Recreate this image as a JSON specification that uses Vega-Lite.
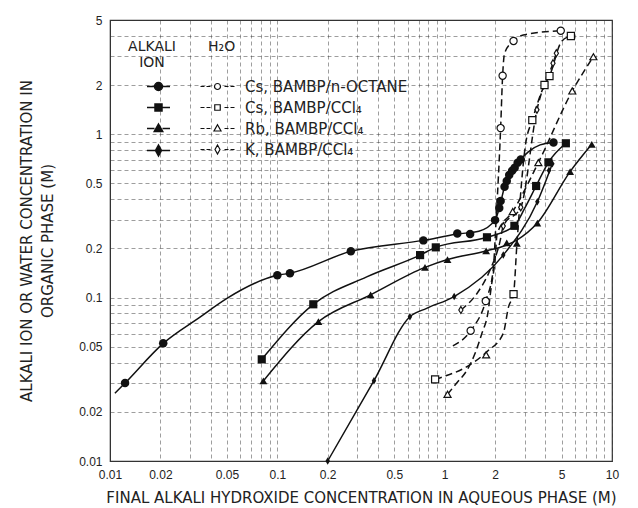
{
  "$schema": "https://vega.github.io/schema/vega-lite/v6.json",
  "width": 502,
  "height": 441,
  "autosize": {"type": "none"},
  "padding": {"left": 110, "top": 20, "right": 26, "bottom": 47},
  "background": "white",
  "config": {
    "view": {"stroke": "#333", "strokeWidth": 1.2},
    "font": "DejaVu Sans",
    "axis": {
      "labelFont": "Liberation Sans", "labelFontSize": 12, "labelColor": "#222",
      "titleFont": "DejaVu Sans", "titleFontSize": 15, "titleFontWeight": "normal", "titleColor": "#222",
      "tickSize": 0, "domainColor": "#333", "gridColor": "#333", "gridDash": [4, 3], "gridWidth": 0.8, "gridOpacity": 0.6,
      "labelOverlap": false, "labelFlush": false
    }
  },
  "datasets": {
    "markers": [
      {"s": "Cs, BAMBP/n-OCTANE", "k": "ion", "x": 0.0123, "y": 0.030},
      {"s": "Cs, BAMBP/n-OCTANE", "k": "ion", "x": 0.0208, "y": 0.0525},
      {"s": "Cs, BAMBP/n-OCTANE", "k": "ion", "x": 0.100, "y": 0.137},
      {"s": "Cs, BAMBP/n-OCTANE", "k": "ion", "x": 0.119, "y": 0.141},
      {"s": "Cs, BAMBP/n-OCTANE", "k": "ion", "x": 0.275, "y": 0.192},
      {"s": "Cs, BAMBP/n-OCTANE", "k": "ion", "x": 0.746, "y": 0.224},
      {"s": "Cs, BAMBP/n-OCTANE", "k": "ion", "x": 1.19, "y": 0.247},
      {"s": "Cs, BAMBP/n-OCTANE", "k": "ion", "x": 1.42, "y": 0.245},
      {"s": "Cs, BAMBP/n-OCTANE", "k": "ion", "x": 2.0, "y": 0.298},
      {"s": "Cs, BAMBP/n-OCTANE", "k": "ion", "x": 2.12, "y": 0.353},
      {"s": "Cs, BAMBP/n-OCTANE", "k": "ion", "x": 2.16, "y": 0.39},
      {"s": "Cs, BAMBP/n-OCTANE", "k": "ion", "x": 2.28, "y": 0.477},
      {"s": "Cs, BAMBP/n-OCTANE", "k": "ion", "x": 2.35, "y": 0.518},
      {"s": "Cs, BAMBP/n-OCTANE", "k": "ion", "x": 2.43, "y": 0.563},
      {"s": "Cs, BAMBP/n-OCTANE", "k": "ion", "x": 2.53, "y": 0.598},
      {"s": "Cs, BAMBP/n-OCTANE", "k": "ion", "x": 2.62, "y": 0.624},
      {"s": "Cs, BAMBP/n-OCTANE", "k": "ion", "x": 2.73, "y": 0.67},
      {"s": "Cs, BAMBP/n-OCTANE", "k": "ion", "x": 2.85, "y": 0.70},
      {"s": "Cs, BAMBP/n-OCTANE", "k": "ion", "x": 4.47, "y": 0.89},
      {"s": "Cs, BAMBP/CCl₄", "k": "ion", "x": 0.0807, "y": 0.0419},
      {"s": "Cs, BAMBP/CCl₄", "k": "ion", "x": 0.164, "y": 0.091},
      {"s": "Cs, BAMBP/CCl₄", "k": "ion", "x": 0.713, "y": 0.182},
      {"s": "Cs, BAMBP/CCl₄", "k": "ion", "x": 0.885, "y": 0.203},
      {"s": "Cs, BAMBP/CCl₄", "k": "ion", "x": 1.79, "y": 0.234},
      {"s": "Cs, BAMBP/CCl₄", "k": "ion", "x": 2.61, "y": 0.275},
      {"s": "Cs, BAMBP/CCl₄", "k": "ion", "x": 3.52, "y": 0.482},
      {"s": "Cs, BAMBP/CCl₄", "k": "ion", "x": 4.17, "y": 0.673},
      {"s": "Cs, BAMBP/CCl₄", "k": "ion", "x": 5.30, "y": 0.88},
      {"s": "Rb, BAMBP/CCl₄", "k": "ion", "x": 0.0825, "y": 0.0309},
      {"s": "Rb, BAMBP/CCl₄", "k": "ion", "x": 0.176, "y": 0.0713},
      {"s": "Rb, BAMBP/CCl₄", "k": "ion", "x": 0.361, "y": 0.104},
      {"s": "Rb, BAMBP/CCl₄", "k": "ion", "x": 0.763, "y": 0.153},
      {"s": "Rb, BAMBP/CCl₄", "k": "ion", "x": 1.04, "y": 0.171},
      {"s": "Rb, BAMBP/CCl₄", "k": "ion", "x": 1.77, "y": 0.193},
      {"s": "Rb, BAMBP/CCl₄", "k": "ion", "x": 2.35, "y": 0.216},
      {"s": "Rb, BAMBP/CCl₄", "k": "ion", "x": 2.70, "y": 0.215},
      {"s": "Rb, BAMBP/CCl₄", "k": "ion", "x": 3.58, "y": 0.286},
      {"s": "Rb, BAMBP/CCl₄", "k": "ion", "x": 5.62, "y": 0.59},
      {"s": "Rb, BAMBP/CCl₄", "k": "ion", "x": 7.57, "y": 0.867},
      {"s": "K, BAMBP/CCl₄", "k": "ion", "x": 0.2, "y": 0.01},
      {"s": "K, BAMBP/CCl₄", "k": "ion", "x": 0.378, "y": 0.031},
      {"s": "K, BAMBP/CCl₄", "k": "ion", "x": 0.62, "y": 0.0764},
      {"s": "K, BAMBP/CCl₄", "k": "ion", "x": 1.14, "y": 0.1015},
      {"s": "K, BAMBP/CCl₄", "k": "ion", "x": 2.24, "y": 0.182},
      {"s": "K, BAMBP/CCl₄", "k": "ion", "x": 3.58, "y": 0.386},
      {"s": "K, BAMBP/CCl₄", "k": "ion", "x": 4.2, "y": 0.6},
      {"s": "K, BAMBP/CCl₄", "k": "ion", "x": 4.4, "y": 0.66},
      {"s": "Cs, BAMBP/n-OCTANE", "k": "water", "x": 1.43, "y": 0.0627},
      {"s": "Cs, BAMBP/n-OCTANE", "k": "water", "x": 1.76, "y": 0.0953},
      {"s": "Cs, BAMBP/n-OCTANE", "k": "water", "x": 2.16, "y": 1.09},
      {"s": "Cs, BAMBP/n-OCTANE", "k": "water", "x": 2.22, "y": 2.28},
      {"s": "Cs, BAMBP/n-OCTANE", "k": "water", "x": 2.58, "y": 3.72},
      {"s": "Cs, BAMBP/n-OCTANE", "k": "water", "x": 4.94, "y": 4.30},
      {"s": "Cs, BAMBP/CCl₄", "k": "water", "x": 0.877, "y": 0.0316},
      {"s": "Cs, BAMBP/CCl₄", "k": "water", "x": 2.58, "y": 0.105},
      {"s": "Cs, BAMBP/CCl₄", "k": "water", "x": 3.34, "y": 1.22},
      {"s": "Cs, BAMBP/CCl₄", "k": "water", "x": 3.95, "y": 2.0},
      {"s": "Cs, BAMBP/CCl₄", "k": "water", "x": 4.23, "y": 2.27},
      {"s": "Cs, BAMBP/CCl₄", "k": "water", "x": 5.68, "y": 3.99},
      {"s": "Rb, BAMBP/CCl₄", "k": "water", "x": 1.04, "y": 0.0256},
      {"s": "Rb, BAMBP/CCl₄", "k": "water", "x": 1.77, "y": 0.0446},
      {"s": "Rb, BAMBP/CCl₄", "k": "water", "x": 2.55, "y": 0.336},
      {"s": "Rb, BAMBP/CCl₄", "k": "water", "x": 3.63, "y": 0.67},
      {"s": "Rb, BAMBP/CCl₄", "k": "water", "x": 5.79, "y": 1.84},
      {"s": "Rb, BAMBP/CCl₄", "k": "water", "x": 7.74, "y": 2.98},
      {"s": "K, BAMBP/CCl₄", "k": "water", "x": 1.25, "y": 0.084},
      {"s": "K, BAMBP/CCl₄", "k": "water", "x": 2.24, "y": 0.274},
      {"s": "K, BAMBP/CCl₄", "k": "water", "x": 2.85, "y": 0.357},
      {"s": "K, BAMBP/CCl₄", "k": "water", "x": 3.56, "y": 1.41},
      {"s": "K, BAMBP/CCl₄", "k": "water", "x": 4.44, "y": 2.72},
      {"s": "K, BAMBP/CCl₄", "k": "water", "x": 4.65, "y": 3.13}
    ],
    "curves": [
      {"s": "Cs, BAMBP/n-OCTANE", "k": "ion", "x": 0.0107, "y": 0.026},
      {"s": "Cs, BAMBP/n-OCTANE", "k": "ion", "x": 0.0123, "y": 0.030},
      {"s": "Cs, BAMBP/n-OCTANE", "k": "ion", "x": 0.0208, "y": 0.0525},
      {"s": "Cs, BAMBP/n-OCTANE", "k": "ion", "x": 0.0345, "y": 0.076},
      {"s": "Cs, BAMBP/n-OCTANE", "k": "ion", "x": 0.05, "y": 0.099},
      {"s": "Cs, BAMBP/n-OCTANE", "k": "ion", "x": 0.100, "y": 0.137},
      {"s": "Cs, BAMBP/n-OCTANE", "k": "ion", "x": 0.119, "y": 0.141},
      {"s": "Cs, BAMBP/n-OCTANE", "k": "ion", "x": 0.275, "y": 0.192},
      {"s": "Cs, BAMBP/n-OCTANE", "k": "ion", "x": 0.746, "y": 0.224},
      {"s": "Cs, BAMBP/n-OCTANE", "k": "ion", "x": 1.19, "y": 0.245},
      {"s": "Cs, BAMBP/n-OCTANE", "k": "ion", "x": 1.6, "y": 0.255},
      {"s": "Cs, BAMBP/n-OCTANE", "k": "ion", "x": 2.0, "y": 0.298},
      {"s": "Cs, BAMBP/n-OCTANE", "k": "ion", "x": 2.12, "y": 0.353},
      {"s": "Cs, BAMBP/n-OCTANE", "k": "ion", "x": 2.28, "y": 0.477},
      {"s": "Cs, BAMBP/n-OCTANE", "k": "ion", "x": 2.43, "y": 0.563},
      {"s": "Cs, BAMBP/n-OCTANE", "k": "ion", "x": 2.62, "y": 0.624},
      {"s": "Cs, BAMBP/n-OCTANE", "k": "ion", "x": 2.85, "y": 0.70},
      {"s": "Cs, BAMBP/n-OCTANE", "k": "ion", "x": 3.16, "y": 0.78},
      {"s": "Cs, BAMBP/n-OCTANE", "k": "ion", "x": 3.72, "y": 0.86},
      {"s": "Cs, BAMBP/n-OCTANE", "k": "ion", "x": 4.47, "y": 0.89},
      {"s": "Cs, BAMBP/CCl₄", "k": "ion", "x": 0.0807, "y": 0.0419},
      {"s": "Cs, BAMBP/CCl₄", "k": "ion", "x": 0.164, "y": 0.091},
      {"s": "Cs, BAMBP/CCl₄", "k": "ion", "x": 0.342, "y": 0.134},
      {"s": "Cs, BAMBP/CCl₄", "k": "ion", "x": 0.713, "y": 0.182},
      {"s": "Cs, BAMBP/CCl₄", "k": "ion", "x": 0.885, "y": 0.203},
      {"s": "Cs, BAMBP/CCl₄", "k": "ion", "x": 1.79, "y": 0.234},
      {"s": "Cs, BAMBP/CCl₄", "k": "ion", "x": 2.61, "y": 0.275},
      {"s": "Cs, BAMBP/CCl₄", "k": "ion", "x": 3.0, "y": 0.35},
      {"s": "Cs, BAMBP/CCl₄", "k": "ion", "x": 3.52, "y": 0.482},
      {"s": "Cs, BAMBP/CCl₄", "k": "ion", "x": 4.17, "y": 0.673},
      {"s": "Cs, BAMBP/CCl₄", "k": "ion", "x": 5.30, "y": 0.88},
      {"s": "Rb, BAMBP/CCl₄", "k": "ion", "x": 0.0825, "y": 0.0309},
      {"s": "Rb, BAMBP/CCl₄", "k": "ion", "x": 0.176, "y": 0.0713},
      {"s": "Rb, BAMBP/CCl₄", "k": "ion", "x": 0.361, "y": 0.104},
      {"s": "Rb, BAMBP/CCl₄", "k": "ion", "x": 0.763, "y": 0.153},
      {"s": "Rb, BAMBP/CCl₄", "k": "ion", "x": 1.04, "y": 0.171},
      {"s": "Rb, BAMBP/CCl₄", "k": "ion", "x": 1.77, "y": 0.193},
      {"s": "Rb, BAMBP/CCl₄", "k": "ion", "x": 2.35, "y": 0.210},
      {"s": "Rb, BAMBP/CCl₄", "k": "ion", "x": 2.70, "y": 0.225},
      {"s": "Rb, BAMBP/CCl₄", "k": "ion", "x": 3.58, "y": 0.286},
      {"s": "Rb, BAMBP/CCl₄", "k": "ion", "x": 5.62, "y": 0.59},
      {"s": "Rb, BAMBP/CCl₄", "k": "ion", "x": 7.57, "y": 0.867},
      {"s": "K, BAMBP/CCl₄", "k": "ion", "x": 0.2, "y": 0.01},
      {"s": "K, BAMBP/CCl₄", "k": "ion", "x": 0.378, "y": 0.031},
      {"s": "K, BAMBP/CCl₄", "k": "ion", "x": 0.62, "y": 0.0764},
      {"s": "K, BAMBP/CCl₄", "k": "ion", "x": 0.78, "y": 0.086},
      {"s": "K, BAMBP/CCl₄", "k": "ion", "x": 1.14, "y": 0.1015},
      {"s": "K, BAMBP/CCl₄", "k": "ion", "x": 2.24, "y": 0.182},
      {"s": "K, BAMBP/CCl₄", "k": "ion", "x": 3.58, "y": 0.386},
      {"s": "K, BAMBP/CCl₄", "k": "ion", "x": 4.4, "y": 0.66},
      {"s": "Cs, BAMBP/n-OCTANE", "k": "water", "x": 1.12, "y": 0.0506},
      {"s": "Cs, BAMBP/n-OCTANE", "k": "water", "x": 1.43, "y": 0.0627},
      {"s": "Cs, BAMBP/n-OCTANE", "k": "water", "x": 1.76, "y": 0.0953},
      {"s": "Cs, BAMBP/n-OCTANE", "k": "water", "x": 1.95, "y": 0.148},
      {"s": "Cs, BAMBP/n-OCTANE", "k": "water", "x": 2.03, "y": 0.30},
      {"s": "Cs, BAMBP/n-OCTANE", "k": "water", "x": 2.16, "y": 1.09},
      {"s": "Cs, BAMBP/n-OCTANE", "k": "water", "x": 2.22, "y": 2.28},
      {"s": "Cs, BAMBP/n-OCTANE", "k": "water", "x": 2.28, "y": 3.13},
      {"s": "Cs, BAMBP/n-OCTANE", "k": "water", "x": 2.58, "y": 3.72},
      {"s": "Cs, BAMBP/n-OCTANE", "k": "water", "x": 2.95, "y": 4.05},
      {"s": "Cs, BAMBP/n-OCTANE", "k": "water", "x": 4.94, "y": 4.30},
      {"s": "Cs, BAMBP/CCl₄", "k": "water", "x": 0.877, "y": 0.0316},
      {"s": "Cs, BAMBP/CCl₄", "k": "water", "x": 0.98, "y": 0.0328},
      {"s": "Cs, BAMBP/CCl₄", "k": "water", "x": 1.36, "y": 0.0378},
      {"s": "Cs, BAMBP/CCl₄", "k": "water", "x": 1.79, "y": 0.0467},
      {"s": "Cs, BAMBP/CCl₄", "k": "water", "x": 2.24, "y": 0.0605},
      {"s": "Cs, BAMBP/CCl₄", "k": "water", "x": 2.41, "y": 0.088},
      {"s": "Cs, BAMBP/CCl₄", "k": "water", "x": 2.58, "y": 0.105},
      {"s": "Cs, BAMBP/CCl₄", "k": "water", "x": 2.70, "y": 0.21},
      {"s": "Cs, BAMBP/CCl₄", "k": "water", "x": 3.03, "y": 0.84},
      {"s": "Cs, BAMBP/CCl₄", "k": "water", "x": 3.34, "y": 1.22},
      {"s": "Cs, BAMBP/CCl₄", "k": "water", "x": 3.95, "y": 2.0},
      {"s": "Cs, BAMBP/CCl₄", "k": "water", "x": 4.23, "y": 2.27},
      {"s": "Cs, BAMBP/CCl₄", "k": "water", "x": 5.0, "y": 3.7},
      {"s": "Cs, BAMBP/CCl₄", "k": "water", "x": 5.68, "y": 3.99},
      {"s": "Rb, BAMBP/CCl₄", "k": "water", "x": 1.04, "y": 0.0256},
      {"s": "Rb, BAMBP/CCl₄", "k": "water", "x": 1.18, "y": 0.030},
      {"s": "Rb, BAMBP/CCl₄", "k": "water", "x": 1.36, "y": 0.036},
      {"s": "Rb, BAMBP/CCl₄", "k": "water", "x": 1.52, "y": 0.0456},
      {"s": "Rb, BAMBP/CCl₄", "k": "water", "x": 1.67, "y": 0.0605},
      {"s": "Rb, BAMBP/CCl₄", "k": "water", "x": 1.81, "y": 0.080},
      {"s": "Rb, BAMBP/CCl₄", "k": "water", "x": 1.90, "y": 0.117},
      {"s": "Rb, BAMBP/CCl₄", "k": "water", "x": 2.0, "y": 0.17},
      {"s": "Rb, BAMBP/CCl₄", "k": "water", "x": 2.06, "y": 0.247},
      {"s": "Rb, BAMBP/CCl₄", "k": "water", "x": 2.55, "y": 0.336},
      {"s": "Rb, BAMBP/CCl₄", "k": "water", "x": 3.63, "y": 0.67},
      {"s": "Rb, BAMBP/CCl₄", "k": "water", "x": 5.79, "y": 1.84},
      {"s": "Rb, BAMBP/CCl₄", "k": "water", "x": 7.74, "y": 2.98},
      {"s": "K, BAMBP/CCl₄", "k": "water", "x": 1.25, "y": 0.084},
      {"s": "K, BAMBP/CCl₄", "k": "water", "x": 1.56, "y": 0.106},
      {"s": "K, BAMBP/CCl₄", "k": "water", "x": 1.87, "y": 0.148},
      {"s": "K, BAMBP/CCl₄", "k": "water", "x": 2.14, "y": 0.22},
      {"s": "K, BAMBP/CCl₄", "k": "water", "x": 2.24, "y": 0.274},
      {"s": "K, BAMBP/CCl₄", "k": "water", "x": 2.85, "y": 0.357},
      {"s": "K, BAMBP/CCl₄", "k": "water", "x": 3.56, "y": 1.41},
      {"s": "K, BAMBP/CCl₄", "k": "water", "x": 4.44, "y": 2.72},
      {"s": "K, BAMBP/CCl₄", "k": "water", "x": 4.65, "y": 3.13}
    ]
  },
  "encoding": {
    "x": {
      "field": "x", "type": "quantitative",
      "scale": {"type": "log", "domain": [0.01, 10], "nice": false},
      "axis": {
        "values": [0.01, 0.02, 0.03, 0.04, 0.05, 0.06, 0.07, 0.08, 0.09, 0.1, 0.2, 0.3, 0.4, 0.5, 0.6, 0.7, 0.8, 0.9, 1, 2, 3, 4, 5, 6, 7, 8, 9, 10],
        "format": "~g",
        "labelExpr": "indexof([0.01,0.02,0.05,0.1,0.2,0.5,1,2,5,10], datum.value) >= 0 ? datum.label : ''",
        "title": "FINAL ALKALI HYDROXIDE CONCENTRATION IN AQUEOUS PHASE (M)",
        "labelPadding": 8, "titlePadding": 10
      }
    },
    "y": {
      "field": "y", "type": "quantitative",
      "scale": {"type": "log", "domain": [0.01, 5], "nice": false},
      "axis": {
        "values": [0.01, 0.02, 0.03, 0.04, 0.05, 0.06, 0.07, 0.08, 0.09, 0.1, 0.2, 0.3, 0.4, 0.5, 0.6, 0.7, 0.8, 0.9, 1, 2, 3, 4, 5],
        "format": "~g",
        "labelExpr": "indexof([0.01,0.02,0.05,0.1,0.2,0.5,1,2,5], datum.value) >= 0 ? datum.label : ''",
        "title": ["ALKALI ION OR WATER CONCENTRATION IN", "ORGANIC PHASE (M)"],
        "titleLineHeight": 21,
        "labelPadding": 8, "titlePadding": 23
      }
    }
  },
  "layer": [
    {
      "data": {"values": [{}]},
      "mark": {"type": "rect", "fill": "white"},
      "encoding": {
        "x": {"datum": 0.0125, "type": "quantitative"},
        "x2": {"datum": 1.9},
        "y": {"datum": 0.65, "type": "quantitative"},
        "y2": {"datum": 3.9}
      }
    },
    {
      "data": {"name": "curves"},
      "transform": [{"filter": "datum.k === 'ion'"}],
      "mark": {"type": "line", "interpolate": "monotone", "stroke": "#111", "strokeWidth": 1.5},
      "encoding": {"detail": {"field": "s"}}
    },
    {
      "data": {"name": "curves"},
      "transform": [{"filter": "datum.k === 'water'"}],
      "mark": {"type": "line", "interpolate": "monotone", "stroke": "#111", "strokeWidth": 1.5, "strokeDash": [7, 4]},
      "encoding": {"detail": {"field": "s"}}
    },
    {
      "data": {"name": "markers"},
      "transform": [{"filter": "datum.k === 'ion'"}],
      "mark": {"type": "point", "filled": true, "color": "#111", "opacity": 1},
      "encoding": {
        "shape": {"field": "s", "scale": {"domain": ["Cs, BAMBP/n-OCTANE", "Cs, BAMBP/CCl₄", "Rb, BAMBP/CCl₄", "K, BAMBP/CCl₄"], "range": ["circle", "square", "triangle-up", "M0,-1L0.6,0L0,1L-0.6,0Z"]}, "legend": null},
        "size": {"field": "s", "scale": {"domain": ["Cs, BAMBP/n-OCTANE", "Cs, BAMBP/CCl₄", "Rb, BAMBP/CCl₄", "K, BAMBP/CCl₄"], "range": [72, 56, 64, 120]}, "legend": null}
      }
    },
    {
      "data": {"name": "markers"},
      "transform": [{"filter": "datum.k === 'water'"}],
      "mark": {"type": "point", "filled": true, "fill": "white", "stroke": "#111", "strokeWidth": 1.2, "opacity": 1},
      "encoding": {
        "shape": {"field": "s", "scale": {"domain": ["Cs, BAMBP/n-OCTANE", "Cs, BAMBP/CCl₄", "Rb, BAMBP/CCl₄", "K, BAMBP/CCl₄"], "range": ["circle", "square", "triangle-up", "M0,-1L0.6,0L0,1L-0.6,0Z"]}, "legend": null},
        "size": {"field": "s", "scale": {"domain": ["Cs, BAMBP/n-OCTANE", "Cs, BAMBP/CCl₄", "Rb, BAMBP/CCl₄", "K, BAMBP/CCl₄"], "range": [52, 48, 56, 90]}, "legend": null}
      }
    },
    {
      "data": {"name": "markers"},
      "transform": [{"filter": "false"}],
      "mark": {"type": "point", "filled": false, "color": "#111", "fill": "#111", "strokeWidth": 1.5, "opacity": 1},
      "encoding": {
        "shape": {
          "field": "s",
          "scale": {"domain": ["Cs, BAMBP/n-OCTANE", "Cs, BAMBP/CCl₄", "Rb, BAMBP/CCl₄", "K, BAMBP/CCl₄"],
                    "range": ["M-2.3,0H-0.8M0.8,0H2.3M-0.8,0A0.8,0.8,0,1,1,0.8,0A0.8,0.8,0,1,1,-0.8,0Z",
                              "M-2.3,0H-0.7M0.7,0H2.3M-0.7,-0.7H0.7V0.7H-0.7Z",
                              "M-2.3,0H-0.8M0.8,0H2.3M0,-0.9L0.85,0.6L-0.85,0.6Z",
                              "M-2.3,0H-0.6M0.6,0H2.3M0,-1.1L0.6,0L0,1.1L-0.6,0Z"]},
          "legend": {
            "orient": "none", "legendX": 18, "legendY": 20, "padding": 0,
            "title": ["ALKALI", "ION"], "titleFont": "DejaVu Sans", "titleFontSize": 14, "titleFontWeight": "normal",
            "titleColor": "#222", "titleAnchor": "middle", "titleAlign": "center", "titleLineHeight": 16, "titlePadding": 9,
            "labelExpr": "''", "labelFontSize": 15, "symbolSize": 100, "symbolOffset": 20,
            "symbolStrokeWidth": 1.5, "rowPadding": 5
          }
        }
      }
    },
    {
      "data": {"name": "markers"},
      "transform": [{"filter": "false"}],
      "mark": {"type": "point", "filled": false, "color": "#111", "fill": "white", "strokeWidth": 1.2, "opacity": 1},
      "encoding": {
        "shape": {
          "field": "s",
          "scale": {"domain": ["Cs, BAMBP/n-OCTANE", "Cs, BAMBP/CCl₄", "Rb, BAMBP/CCl₄", "K, BAMBP/CCl₄"],
                    "range": ["M-3.4,0H-2.6M-2.2,0H-1.4M1.4,0H2.2M2.6,0H3.4M-0.6,0A0.6,0.6,0,1,1,0.6,0A0.6,0.6,0,1,1,-0.6,0Z",
                              "M-3.4,0H-2.6M-2.2,0H-1.4M1.4,0H2.2M2.6,0H3.4M-0.55,-0.55H0.55V0.55H-0.55Z",
                              "M-3.4,0H-2.6M-2.2,0H-1.4M1.4,0H2.2M2.6,0H3.4M0,-0.75L0.7,0.5L-0.7,0.5Z",
                              "M-3.4,0H-2.6M-2.2,0H-1.4M1.4,0H2.2M2.6,0H3.4M0,-0.9L0.5,0L0,0.9L-0.5,0Z"]},
          "legend": {
            "orient": "none", "legendX": 98, "legendY": 20, "padding": 0,
            "title": "H₂O", "titleFont": "DejaVu Sans", "titleFontSize": 14, "titleFontWeight": "normal",
            "titleColor": "#222", "titleAnchor": "start", "titlePadding": 25,
            "labelFont": "DejaVu Sans", "labelFontSize": 15, "labelColor": "#222", "labelOffset": 20, "labelLimit": 400,
            "symbolSize": 100, "symbolOffset": 2, "symbolStrokeWidth": 1.2, "rowPadding": 5
          }
        }
      }
    }
  ],
  "resolve": {"scale": {"shape": "independent", "size": "independent"}, "legend": {"shape": "independent"}}
}
